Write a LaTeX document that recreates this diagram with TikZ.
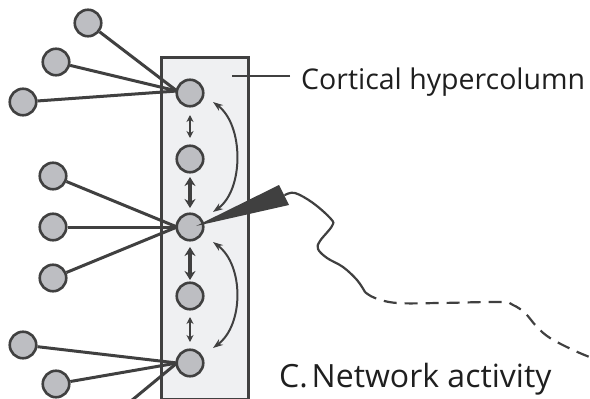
\documentclass[tikz,border=0pt]{standalone}
\usepackage{fontspec}
\setmainfont{Open Sans}
\usetikzlibrary{arrows.meta,calc}
\definecolor{ink}{HTML}{404040}
\definecolor{cellfill}{HTML}{BDBEC2}
\definecolor{boxfill}{HTML}{EFF0F2}
\begin{document}
\begin{tikzpicture}[x=1pt,y=-1pt,
  neuron/.style={circle,draw=ink,fill=cellfill,line width=2.6pt,minimum size=26.5pt,inner sep=0pt},
  link/.style={draw=ink,line width=3pt},
  colbox/.style={draw=ink,fill=boxfill,line width=3.4pt,rectangle,inner sep=0pt,minimum width=87pt,minimum height=342pt},
  thinarr/.style={draw=ink,line width=2pt,{Stealth[length=7pt,width=7pt]}-{Stealth[length=7pt,width=7pt]}},
  thickarr/.style={draw=ink,line width=4.5pt,{Stealth[length=9pt,width=11pt]}-{Stealth[length=9pt,width=11pt]}},
  curvarr/.style={draw=ink,line width=2pt,{Stealth[length=10pt,width=7pt]}-{Stealth[length=10pt,width=7pt]}},
  wirestyle/.style={draw=ink,line width=2.2pt,line cap=round},
  labtext/.style={inner sep=0pt,anchor=base west,text=black!88}]
\useasboundingbox (0,0) rectangle (590,399);
% column
\node[colbox,anchor=north west] (column) at (159.5,55.5) {};
% column cells
\coordinate (c1p) at (190,93);
\coordinate (c2p) at (190,159);
\coordinate (c3p) at (190,227);
\coordinate (c4p) at (190,296);
\coordinate (c5p) at (190,363);
% left cells
\node[neuron] (l1) at (88,23) {};
\node[neuron] (l2) at (56,62) {};
\node[neuron] (l3) at (23,102) {};
\node[neuron] (l4) at (53,176) {};
\node[neuron] (l5) at (53,227) {};
\node[neuron] (l6) at (53,278) {};
\node[neuron] (l7) at (23,345) {};
\node[neuron] (l8) at (56,384) {};
\coordinate (off) at (131,401);
% links
\draw[link] (l1) -- ($(c1p)+(-13,-2)$);
\draw[link] (l2) -- ($(c1p)+(-13,-2)$);
\draw[link] (l3) -- ($(c1p)+(-13,-2)$);
\draw[link] (l4) -- ($(c3p)+(-13,0)$);
\draw[link] (l5) -- ($(c3p)+(-13,0)$);
\draw[link] (l6) -- ($(c3p)+(-13,0)$);
\draw[link] (l7) -- ($(c5p)+(-13,0)$);
\draw[link] (l8) -- ($(c5p)+(-13,0)$);
\draw[link] (off) -- ($(c5p)+(-13,0)$);
\node[neuron] (c1) at (c1p) {};
\node[neuron] (c2) at (c2p) {};
\node[neuron] (c3) at (c3p) {};
\node[neuron] (c4) at (c4p) {};
\node[neuron] (c5) at (c5p) {};
% vertical arrows
\draw[thinarr] ($(c1)+(0,22)$) -- ($(c2)+(0,-21)$);
\draw[thickarr] ($(c2)+(0,18)$) -- ($(c3)+(0,-19)$);
\draw[thickarr] ($(c3)+(0,20)$) -- ($(c4)+(0,-16)$);
\draw[thinarr] ($(c4)+(0,21)$) -- ($(c5)+(0,-21)$);
% curved arrows
\draw[curvarr] ($(c1)+(23,9)$) .. controls ($(c1)+(54,32)$) and ($(c3)+(54,-37)$) .. ($(c3)+(23,-15)$);
\draw[curvarr] ($(c3)+(23,15)$) .. controls ($(c3)+(54,38)$) and ($(c5)+(54,-38)$) .. ($(c5)+(23,-15)$);
% electrode
\coordinate (tip) at (196,226);
\coordinate (b1) at (279,185);
\coordinate (b2) at (289,205);
\fill[ink] (tip) -- (b1) -- (b2) -- cycle;
\draw[wirestyle] plot[smooth,tension=0.6] coordinates {(285,195) (295,193) (313,203) (331,219) (332,226) (320,241) (318,249) (327,258) (343,267) (357,280) (365,292)};
\draw[wirestyle,dash pattern=on 13pt off 8pt,line cap=butt] plot[smooth,tension=0.6] coordinates {(365,292) (375,298) (397,303) (440,303) (500,302) (513,305) (525,313) (537,327) (550,338) (573,350) (592,358)};
% labels
\node[labtext] (hyper) at (301,89) {\fontsize{28.5}{34}\selectfont Cortical hypercolumn};
\coordinate (la) at (232,76);
\coordinate (lb) at (290,76);
\draw[draw=ink,line width=2.4pt] (lb) -- (la);
\node[labtext] (netact) at (279,387) {\fontsize{32}{38}\selectfont C.\hspace{0.12em}Network activity};
\end{tikzpicture}
\end{document}
